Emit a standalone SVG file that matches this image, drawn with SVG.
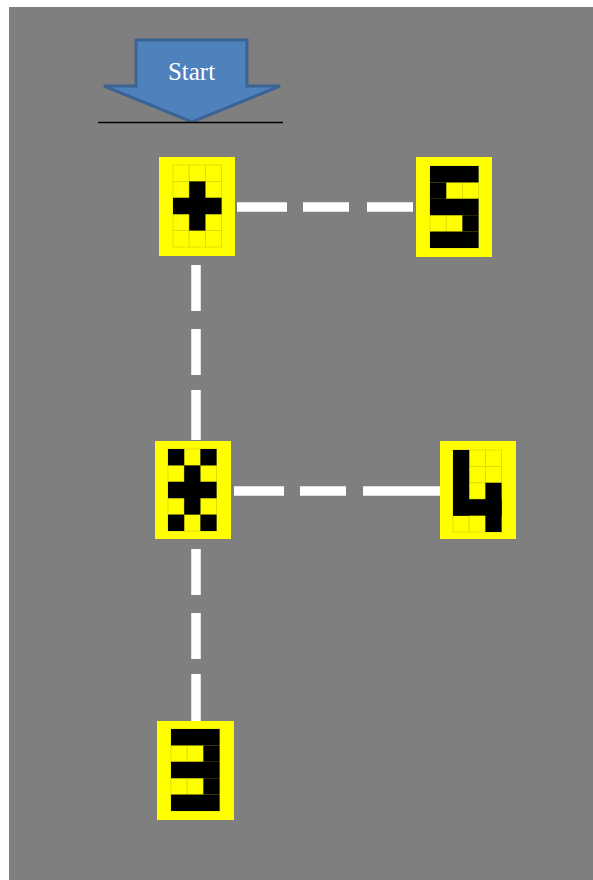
<svg xmlns="http://www.w3.org/2000/svg" xmlns:xlink="http://www.w3.org/1999/xlink" width="593" height="880" viewBox="0 0 593 880">
  <style>
    .tile { fill: #ffff00; }
    .cell { fill: #ffff00; stroke: #d9d900; stroke-width: 0.8; }
    .blk { fill: #000000; }
    .conn { stroke: #ffffff; stroke-width: 9.5; fill: none; }
    .start-text { font-family: "Liberation Serif", "Times New Roman", serif; font-size: 25px; fill: #ffffff; }
  </style>
  <defs>
    <g id="grid">
      <rect class="cell" x="0" y="0" width="16.2" height="16.4"/>
      <rect class="cell" x="16.2" y="0" width="16.2" height="16.4"/>
      <rect class="cell" x="32.4" y="0" width="16.2" height="16.4"/>
      <rect class="cell" x="0" y="16.4" width="16.2" height="16.4"/>
      <rect class="cell" x="16.2" y="16.4" width="16.2" height="16.4"/>
      <rect class="cell" x="32.4" y="16.4" width="16.2" height="16.4"/>
      <rect class="cell" x="0" y="32.8" width="16.2" height="16.4"/>
      <rect class="cell" x="16.2" y="32.8" width="16.2" height="16.4"/>
      <rect class="cell" x="32.4" y="32.8" width="16.2" height="16.4"/>
      <rect class="cell" x="0" y="49.2" width="16.2" height="16.4"/>
      <rect class="cell" x="16.2" y="49.2" width="16.2" height="16.4"/>
      <rect class="cell" x="32.4" y="49.2" width="16.2" height="16.4"/>
      <rect class="cell" x="0" y="65.6" width="16.2" height="16.4"/>
      <rect class="cell" x="16.2" y="65.6" width="16.2" height="16.4"/>
      <rect class="cell" x="32.4" y="65.6" width="16.2" height="16.4"/>
    </g>
  </defs>

  <rect x="9" y="7" width="584" height="873" fill="#7f7f7f"/>

  <g id="start">
    <polygon points="136,40 247,40 247,86 280,86 192,122 104,86 136,86" fill="#4f81bd" stroke="#3b6494" stroke-width="3" stroke-linejoin="miter"/>
    <text class="start-text" x="191.5" y="80" text-anchor="middle">Start</text>
    <line x1="98" y1="122.5" x2="283" y2="122.5" stroke="#000000" stroke-width="1.6"/>
  </g>

  <g id="connectors">
    <line class="conn" x1="237" y1="207" x2="413" y2="207" stroke-dasharray="50 16 46 18 46"/>
    <line class="conn" x1="196" y1="265" x2="196" y2="440" stroke-dasharray="46 18 46 15 50"/>
    <line class="conn" x1="234" y1="491" x2="440" y2="491" stroke-dasharray="50 16 46 17 80"/>
    <line class="conn" x1="196" y1="549" x2="196" y2="721" stroke-dasharray="46 18 46 15 60"/>
  </g>

  <g id="node-plus">
    <rect class="tile" x="159" y="157" width="76" height="99"/>
    <g transform="translate(173,165)">
      <use xlink:href="#grid"/>
      <rect class="blk" x="16.2" y="16.4" width="16.2" height="49.2"/>
      <rect class="blk" x="0" y="32.8" width="48.6" height="16.4"/>
    </g>
  </g>

  <g id="node-5">
    <rect class="tile" x="416" y="157" width="76" height="100"/>
    <g transform="translate(430,166)">
      <use xlink:href="#grid"/>
      <rect class="blk" x="0" y="0" width="48.6" height="16.4"/>
      <rect class="blk" x="0" y="16.4" width="16.2" height="16.4"/>
      <rect class="blk" x="0" y="32.8" width="48.6" height="16.4"/>
      <rect class="blk" x="32.4" y="49.2" width="16.2" height="16.4"/>
      <rect class="blk" x="0" y="65.6" width="48.6" height="16.4"/>
    </g>
  </g>

  <g id="node-x">
    <rect class="tile" x="155" y="441" width="76" height="98"/>
    <g transform="translate(168,449)">
      <use xlink:href="#grid"/>
      <rect class="blk" x="0" y="0" width="16.2" height="16.4"/>
      <rect class="blk" x="32.4" y="0" width="16.2" height="16.4"/>
      <rect class="blk" x="16.2" y="16.4" width="16.2" height="49.2"/>
      <rect class="blk" x="0" y="32.8" width="48.6" height="16.4"/>
      <rect class="blk" x="0" y="65.6" width="16.2" height="16.4"/>
      <rect class="blk" x="32.4" y="65.6" width="16.2" height="16.4"/>
    </g>
  </g>

  <g id="node-4">
    <rect class="tile" x="440" y="441" width="76" height="98"/>
    <g transform="translate(453,450)">
      <use xlink:href="#grid"/>
      <rect class="blk" x="0" y="0" width="16.2" height="65.6"/>
      <rect class="blk" x="0" y="49.2" width="48.6" height="16.4"/>
      <rect class="blk" x="32.4" y="32.8" width="16.2" height="49.2"/>
    </g>
  </g>

  <g id="node-3">
    <rect class="tile" x="157" y="721" width="77" height="99"/>
    <g transform="translate(171,729)">
      <use xlink:href="#grid"/>
      <rect class="blk" x="0" y="0" width="48.6" height="16.4"/>
      <rect class="blk" x="32.4" y="16.4" width="16.2" height="16.4"/>
      <rect class="blk" x="0" y="32.8" width="48.6" height="16.4"/>
      <rect class="blk" x="32.4" y="49.2" width="16.2" height="16.4"/>
      <rect class="blk" x="0" y="65.6" width="48.6" height="16.4"/>
    </g>
  </g>
</svg>
